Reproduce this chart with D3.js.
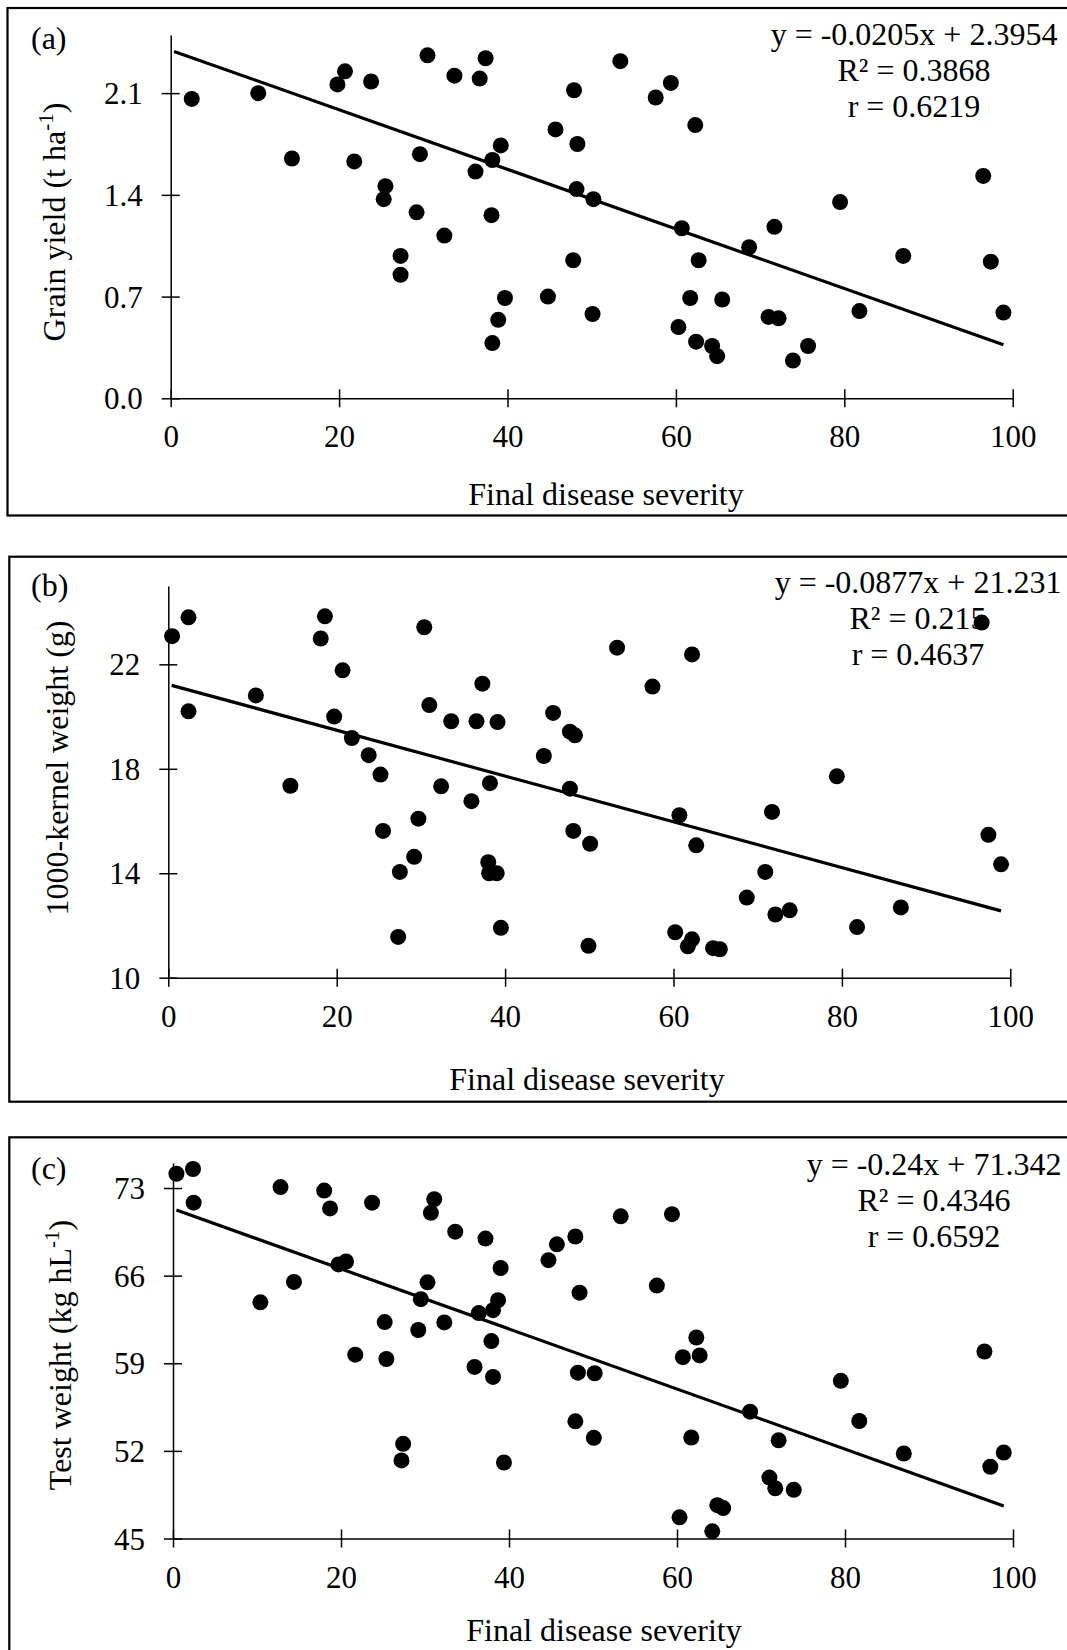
<!DOCTYPE html>
<html>
<head>
<meta charset="utf-8">
<script src="https://cdn.jsdelivr.net/npm/d3@7"></script>
<style>
  body { margin: 0; background: #fff; }
  svg text { font-family: "Liberation Serif", "Times New Roman", serif; fill: #000; }
</style>
</head>
<body>
<svg id="chart" width="1067" height="1650"></svg>
<script>
// ---- data ----
const severityA = [2.5, 10.4, 14.4, 19.8, 20.7, 23.8, 21.8, 25.5, 25.3, 29.2, 27.3, 27.3, 32.5, 29.6, 30.5,
    33.7, 36.7, 37.4, 36.2, 38.2, 39.2, 38.1, 39.7, 38.9, 38.2, 53.4, 47.9, 57.6, 59.4, 62.3,
    45.7, 48.3, 48.2, 50.2, 60.7, 71.7, 68.7, 79.5, 96.5, 47.8, 62.7, 87.0, 97.4, 44.8, 61.7,
    65.5, 50.1, 81.8, 98.9, 71.0, 72.2, 60.3, 62.4, 64.3, 64.9, 75.7, 73.9];
const grainYield = [2.06, 2.10, 1.65, 2.16, 2.25, 2.18, 1.63, 1.46, 1.37, 1.28, 0.98, 0.85, 1.12, 1.68, 2.36,
    2.22, 2.20, 2.34, 1.56, 1.64, 1.74, 1.26, 0.69, 0.54, 0.38, 2.32, 2.12, 2.07, 2.17, 1.88,
    1.85, 1.75, 1.44, 1.37, 1.17, 1.18, 1.04, 1.35, 1.53, 0.95, 0.95, 0.98, 0.94, 0.70, 0.69,
    0.68, 0.58, 0.60, 0.59, 0.56, 0.55, 0.49, 0.39, 0.36, 0.29, 0.36, 0.26];

const severityB = [0.45, 2.4, 2.4, 10.4, 14.5, 18.6, 18.1, 20.7, 19.7, 21.8, 23.8, 25.2, 25.5, 27.5, 27.3,
    29.2, 29.7, 30.4, 31.0, 32.4, 33.6, 36.6, 37.3, 39.1, 36.0, 38.2, 38.0, 38.1, 39.0, 39.5,
    53.3, 62.2, 57.5, 45.7, 47.7, 48.3, 44.6, 47.7, 60.7, 71.7, 79.4, 96.6, 97.4, 98.9, 48.1,
    50.1, 62.7, 70.9, 68.7, 72.1, 73.8, 87.0, 81.8, 60.2, 62.2, 61.7, 64.7, 65.5, 49.9];
const kernelWeight = [23.08, 23.80, 20.20, 20.81, 17.35, 23.84, 22.99, 21.77, 20.00, 19.18, 18.52, 17.78, 15.62, 14.05, 11.56,
    14.63, 16.09, 23.42, 20.44, 17.33, 19.82, 19.82, 21.26, 19.79, 16.76, 17.45, 14.42, 14.00, 14.00, 11.91,
    22.64, 22.38, 21.15, 20.14, 19.42, 19.28, 18.49, 17.24, 16.22, 16.35, 17.71, 23.60, 15.47, 14.34, 15.62,
    15.13, 15.07, 14.05, 13.07, 12.42, 12.58, 12.69, 11.94, 11.74, 11.47, 11.20, 11.13, 11.09, 11.22];

const severityC = [0.41, 2.38, 2.46, 10.4, 12.8, 14.4, 18.0, 18.7, 19.7, 20.6, 23.7, 21.7, 25.2, 25.4, 27.4,
    27.2, 29.2, 29.5, 30.3, 31.1, 30.7, 32.3, 33.6, 37.2, 36.4, 38.1, 38.7, 39.0, 37.9, 35.9,
    38.1, 39.4, 53.3, 59.4, 47.9, 45.7, 44.7, 48.4, 57.6, 62.3, 60.7, 62.7, 48.2, 50.2, 79.5,
    96.6, 47.9, 50.1, 61.7, 68.7, 72.1, 81.7, 87.0, 98.9, 97.3, 71.0, 71.7, 73.9, 60.3, 64.8,
    65.5, 64.2];
const testWeight = [74.14, 74.52, 71.83, 63.87, 73.08, 65.50, 72.80, 71.37, 66.90, 67.13, 71.83, 59.69, 62.29, 59.34, 52.56,
    51.24, 61.66, 64.12, 65.47, 72.11, 71.02, 62.26, 69.51, 68.96, 63.01, 63.24, 64.04, 66.61, 60.77, 58.71,
    57.91, 51.07, 70.74, 70.91, 69.13, 68.50, 67.24, 64.64, 65.21, 61.06, 59.49, 59.63, 58.25, 58.20, 57.60,
    59.94, 54.36, 53.04, 53.07, 55.13, 52.84, 54.39, 51.79, 51.87, 50.73, 49.87, 49.01, 48.89, 46.69, 47.66,
    47.43, 45.57];

const severityTicks = [0, 20, 40, 60, 80, 100];
const ticksA = [0, 0.7, 1.4, 2.1];
const ticksB = [10, 14, 18, 22];
const ticksC = [45, 52, 59, 66, 73];

// trendline: [slope, intercept], drawn over the severity range
const fitA = [-0.0205, 2.3954];
const fitB = [-0.0877, 21.231];
const fitC = [-0.24, 71.342];
const trendX = [0.4, 98.9];

const statsA = ["y = -0.0205x + 2.3954", "R² = 0.3868", "r = 0.6219"];
const statsB = ["y = -0.0877x + 21.231", "R² = 0.215", "r = 0.4637"];
const statsC = ["y = -0.24x + 71.342", "R² = 0.4346", "r = 0.6592"];

// ---- layout ----
const panels = [
    { label: "(a)", sev: severityA, val: grainYield, yDomain: [0, 2.5], yTicks: ticksA, fmt: d3.format(".1f"),
      fit: fitA, stats: statsA, yTitle: [["Grain yield (t ha", false], ["-1", true], [")", false]],
      frameTop: 8, frameBottom: 515.5, frameLeft: 7.5,
      left: 170.7, right: 1012.7, top: 35, bottom: 398.3,
      labelY: 49, statX: 914, statY: 45, xTitleX: 606, xTitleY: 505, yTitleX: 65, yTitleY: 222 },
    { label: "(b)", sev: severityB, val: kernelWeight, yDomain: [10, 25], yTicks: ticksB, fmt: d3.format("d"),
      fit: fitB, stats: statsB, yTitle: [["1000-kernel weight (g)", false]],
      frameTop: 556.7, frameBottom: 1101.7, frameLeft: 9.3,
      left: 168.3, right: 1010.3, top: 586, bottom: 977.7,
      labelY: 596, statX: 918, statY: 593, xTitleX: 587, xTitleY: 1090, yTitleX: 68, yTitleY: 768 },
    { label: "(c)", sev: severityC, val: testWeight, yDomain: [45, 75], yTicks: ticksC, fmt: d3.format("d"),
      fit: fitC, stats: statsC, yTitle: [["Test weight (kg hL", false], ["-1", true], [")", false]],
      frameTop: 1137.3, frameBottom: 1700, frameLeft: 9.3,
      left: 173, right: 1013, top: 1163, bottom: 1538.5,
      labelY: 1179, statX: 934, statY: 1175, xTitleX: 604, xTitleY: 1641, yTitleX: 71, yTitleY: 1355 }
];

const svg = d3.select("#chart");

panels.forEach(p => {
    const g = svg.append("g");

    g.append("rect")
        .attr("x", p.frameLeft).attr("y", p.frameTop)
        .attr("width", 1100).attr("height", p.frameBottom - p.frameTop)
        .attr("fill", "none").attr("stroke", "#000").attr("stroke-width", 2.2);

    const x = d3.scaleLinear().domain([0, 100]).range([p.left, p.right]);
    const y = d3.scaleLinear().domain(p.yDomain).range([p.bottom, p.top]);

    // x axis, ticks crossing the line
    const gx = g.append("g")
        .attr("transform", `translate(0,${p.bottom})`)
        .call(d3.axisBottom(x).tickValues(severityTicks).tickSize(9).tickSizeOuter(0));
    gx.attr("font-size", 31);
    gx.select(".domain").attr("stroke-width", 1.5);
    gx.selectAll(".tick line").attr("y1", -9).attr("y2", 9).attr("stroke-width", 1.5);
    gx.selectAll(".tick text").attr("y", 49).attr("dy", null);

    // y axis
    const gy = g.append("g")
        .attr("transform", `translate(${p.left},0)`)
        .call(d3.axisLeft(y).tickValues(p.yTicks).tickFormat(p.fmt).tickSize(9).tickSizeOuter(0));
    gy.attr("font-size", 31);
    gy.select(".domain").attr("stroke-width", 1.5);
    gy.selectAll(".tick line").attr("x1", 9).attr("x2", -9).attr("stroke-width", 1.5);
    gy.selectAll(".tick text").attr("x", -28).attr("dy", "0.34em");

    // titles
    g.append("text").attr("x", p.xTitleX).attr("y", p.xTitleY)
        .attr("text-anchor", "middle").attr("font-size", 32)
        .text("Final disease severity");

    const yt = g.append("text")
        .attr("transform", `translate(${p.yTitleX},${p.yTitleY}) rotate(-90)`)
        .attr("text-anchor", "middle").attr("font-size", 32);
    p.yTitle.forEach(([t, sup], i) => {
        const prevSup = i > 0 && p.yTitle[i - 1][1];
        yt.append("tspan")
            .attr("dy", sup ? -12 : (prevSup ? 12 : 0))
            .attr("font-size", sup ? 21 : 32)
            .text(t);
    });

    g.append("text").attr("x", 31).attr("y", p.labelY)
        .attr("font-size", 32).text(p.label);

    // regression annotation
    g.append("g").selectAll("text")
        .data(p.stats).join("text")
        .attr("x", p.statX)
        .attr("y", (d, i) => p.statY + i * 36)
        .attr("text-anchor", "middle").attr("font-size", 32)
        .text(d => d);

    // trendline
    const line = d3.line().x(d => x(d)).y(d => y(p.fit[0] * d + p.fit[1]));
    g.append("path").datum(trendX)
        .attr("d", line)
        .attr("fill", "none").attr("stroke", "#000").attr("stroke-width", 3.2);

    // points
    g.append("g").selectAll("circle")
        .data(p.sev.map((s, i) => [s, p.val[i]]))
        .join("circle")
        .attr("cx", d => x(d[0]))
        .attr("cy", d => y(d[1]))
        .attr("r", 8)
        .attr("fill", "#000");
});
</script>
</body>
</html>
